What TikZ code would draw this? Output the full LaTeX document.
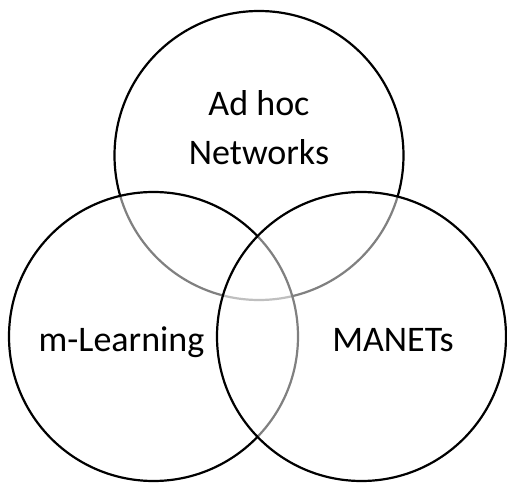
\documentclass[tikz,border=0pt]{standalone}
\usepackage{fontspec}
\setmainfont{Carlito}
\begin{document}
\begin{tikzpicture}[x=1pt,y=-1pt,
  venn/.style={circle,draw=black,line width=2.2pt,fill=white,fill opacity=0.5,draw opacity=1,minimum size=289pt,inner sep=0pt},
  lbl/.style={font=\fontsize{36}{49}\selectfont,align=center,text=black,inner sep=0pt}]
\useasboundingbox (0,0) rectangle (507,484);
\node[venn] (top) at (259,155.5) {};
\node[venn] (left) at (153.5,336.5) {};
\node[venn] (right) at (361.5,336.5) {};
\node[lbl,anchor=base] (tadhoc) at (259,165) {Ad hoc\\Networks};
\node[lbl,anchor=base] (tml) at (121.5,352) {m-Learning};
\node[lbl,anchor=base] (tmanet) at (393,352) {MANETs};
\end{tikzpicture}
\end{document}
